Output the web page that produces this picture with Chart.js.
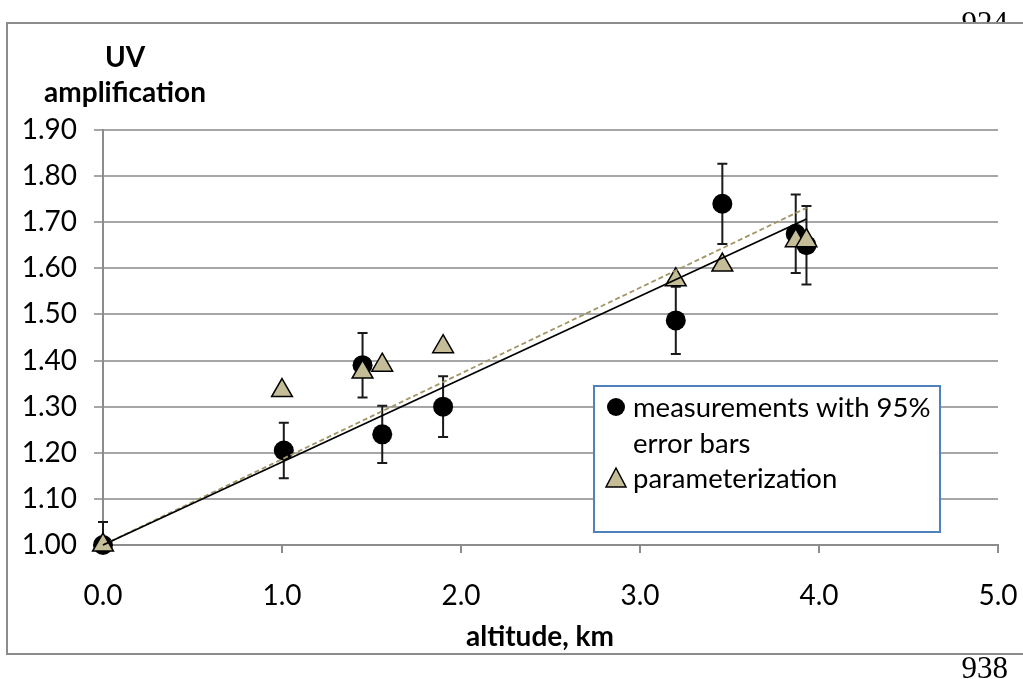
<!DOCTYPE html>
<html>
<head>
<meta charset="utf-8">
<script src="https://cdn.jsdelivr.net/npm/chart.js@4.4.1/dist/chart.umd.min.js"></script>
<style>
  html, body { margin: 0; padding: 0; background: #fff; }
  #wrap { width: 1023px; height: 679px; }
</style>
</head>
<body>
<div id="wrap"><canvas id="uv-chart" width="1023" height="679"></canvas></div>
<script>
// data
const altitude      = [0.00, 1.01, 1.45, 1.56, 1.90, 3.20, 3.46, 3.87, 3.93];
const measured      = [1.00, 1.205, 1.39, 1.24, 1.30, 1.487, 1.74, 1.675, 1.65];
const errHalf       = [0.05, 0.06, 0.07, 0.062, 0.066, 0.073, 0.087, 0.085, 0.085];
const paramAltitude = [0.00, 1.00, 1.45, 1.56, 1.90, 3.20, 3.46, 3.87, 3.93];
const parameterized = [1.00, 1.335, 1.375, 1.39, 1.43, 1.575, 1.607, 1.66, 1.66];
const fitX          = [0.00, 3.93];
const fitMeasured   = [1.00, 1.707];
const fitParam      = [1.00, 1.731];

const legendLabels = ['measurements with 95%', 'error bars', 'parameterization'];
const yTitle = ['UV', 'amplification'];
const xTitle = 'altitude, km';

const FONT = 'Lato, "Open Sans", sans-serif';
const tan = '#C4BD97';

function pts(xs, ys) {
    return xs.map((x, i) => ({ x: x, y: ys[i] }));
}

// page frame + page numbers behind the chart
const frame = {
    id: 'frame',
    beforeDraw(chart) {
        const c = chart.ctx;
        c.save();
        c.fillStyle = '#000';
        c.font = '31px "Liberation Serif", serif';
        c.textAlign = 'right';
        c.textBaseline = 'alphabetic';
        c.fillText('924', 1008, 33);
        c.fillText('938', 1008, 678);
        c.fillStyle = '#fff';
        c.fillRect(8, 24, 1040, 629);
        c.strokeStyle = '#8c8c8c';
        c.lineWidth = 2;
        c.strokeRect(7, 23, 1060, 631);
        c.restore();
    }
};

// vertical error bars on the measurements
const errorBars = {
    id: 'errorBars',
    beforeDatasetsDraw(chart) {
        const c = chart.ctx, xs = chart.scales.x, ys = chart.scales.y, a = chart.chartArea;
        c.save();
        c.beginPath();
        c.rect(a.left - 10, a.top - 10, a.right - a.left + 20, a.bottom - a.top + 10);
        c.clip();
        c.strokeStyle = '#1a1a1a';
        c.lineWidth = 2;
        for (let i = 0; i < altitude.length; i++) {
            const px = xs.getPixelForValue(altitude[i]);
            const top = ys.getPixelForValue(measured[i] + errHalf[i]);
            const bot = ys.getPixelForValue(measured[i] - errHalf[i]);
            c.beginPath();
            c.moveTo(px, top); c.lineTo(px, bot);
            c.moveTo(px - 5, top); c.lineTo(px + 5, top);
            c.moveTo(px - 5, bot); c.lineTo(px + 5, bot);
            c.stroke();
        }
        c.restore();
    }
};

// titles and the boxed legend
const annotations = {
    id: 'annotations',
    afterDraw(chart) {
        const c = chart.ctx;
        c.save();
        c.fillStyle = '#000';
        c.font = 'bold 28px ' + FONT;
        c.textAlign = 'center';
        c.textBaseline = 'alphabetic';
        c.fillText(yTitle[0], 125, 67);
        c.fillText(yTitle[1], 125, 102);
        c.fillText(xTitle, 540, 646);

        // legend box
        c.fillStyle = '#fff';
        c.fillRect(594, 386, 346, 146);
        c.strokeStyle = '#4F81BD';
        c.lineWidth = 2;
        c.strokeRect(594, 386, 346, 146);

        const ds = chart.data.datasets;
        const circle = ds[3], tri = ds[2];
        c.fillStyle = circle.backgroundColor;
        c.beginPath();
        c.arc(616, 407, 9, 0, Math.PI * 2);
        c.fill();

        c.fillStyle = tri.backgroundColor;
        c.strokeStyle = '#000';
        c.lineWidth = 1.5;
        c.beginPath();
        c.moveTo(616, 468); c.lineTo(626, 487); c.lineTo(606, 487);
        c.closePath();
        c.fill(); c.stroke();

        c.fillStyle = '#000';
        c.font = '27.5px ' + FONT;
        c.textAlign = 'left';
        c.textBaseline = 'middle';
        c.fillText(legendLabels[0], 633, 408);
        c.fillText(legendLabels[1], 633, 444);
        c.fillText(legendLabels[2], 633, 479);
        c.restore();
    }
};

const ctx = document.getElementById('uv-chart').getContext('2d');
const myChart = new Chart(ctx, {
    type: 'scatter',
    data: {
        datasets: [
            {
                type: 'line',
                label: 'fit measurements',
                data: pts(fitX, fitMeasured),
                borderColor: '#000',
                borderWidth: 1.8,
                pointRadius: 0,
                fill: false,
                clip: false
            },
            {
                type: 'line',
                label: 'fit parameterization',
                data: pts(fitX, fitParam),
                borderColor: '#A09565',
                borderWidth: 1.8,
                borderDash: [5, 3],
                pointRadius: 0,
                fill: false,
                clip: false
            },
            {
                label: 'parameterization',
                data: pts(paramAltitude, parameterized),
                pointStyle: 'triangle',
                pointRadius: 12,
                backgroundColor: tan,
                borderColor: '#000',
                borderWidth: 1.5,
                clip: false
            },
            {
                label: 'measurements',
                data: pts(altitude, measured),
                pointStyle: 'circle',
                pointRadius: 10,
                backgroundColor: '#000',
                borderColor: '#000',
                borderWidth: 0,
                clip: false
            }
        ]
    },
    options: {
        responsive: false,
        animation: false,
        layout: { padding: { left: 0, top: 130, right: 25, bottom: 0 } },
        plugins: {
            legend: { display: false },
            tooltip: { enabled: false }
        },
        scales: {
            x: {
                type: 'linear',
                min: 0,
                max: 5,
                afterFit: s => { s.height = 134; s.paddingRight = 0; s.paddingLeft = 0; },
                afterBuildTicks: s => { s.ticks = [0, 1, 2, 3, 4, 5].map(v => ({ value: v })); },
                ticks: {
                    color: '#000',
                    font: { family: FONT, size: 28 },
                    padding: 26,
                    callback: v => v.toFixed(1)
                },
                grid: { display: true, drawOnChartArea: false, drawTicks: true, tickLength: 8, color: '#8c8c8c', lineWidth: 2 },
                border: { display: true, color: '#8c8c8c', width: 2 }
            },
            y: {
                type: 'linear',
                min: 1.0,
                max: 1.9,
                afterFit: s => { s.width = 103; s.paddingTop = 0; s.paddingBottom = 0; },
                ticks: {
                    stepSize: 0.1,
                    color: '#000',
                    font: { family: FONT, size: 28 },
                    padding: 17,
                    callback: v => v.toFixed(2)
                },
                grid: { color: '#a6a6a6', lineWidth: 2, tickLength: 9 },
                border: { display: true, color: '#8c8c8c', width: 2 }
            }
        }
    },
    plugins: [frame, errorBars, annotations]
});
</script>
</body>
</html>
